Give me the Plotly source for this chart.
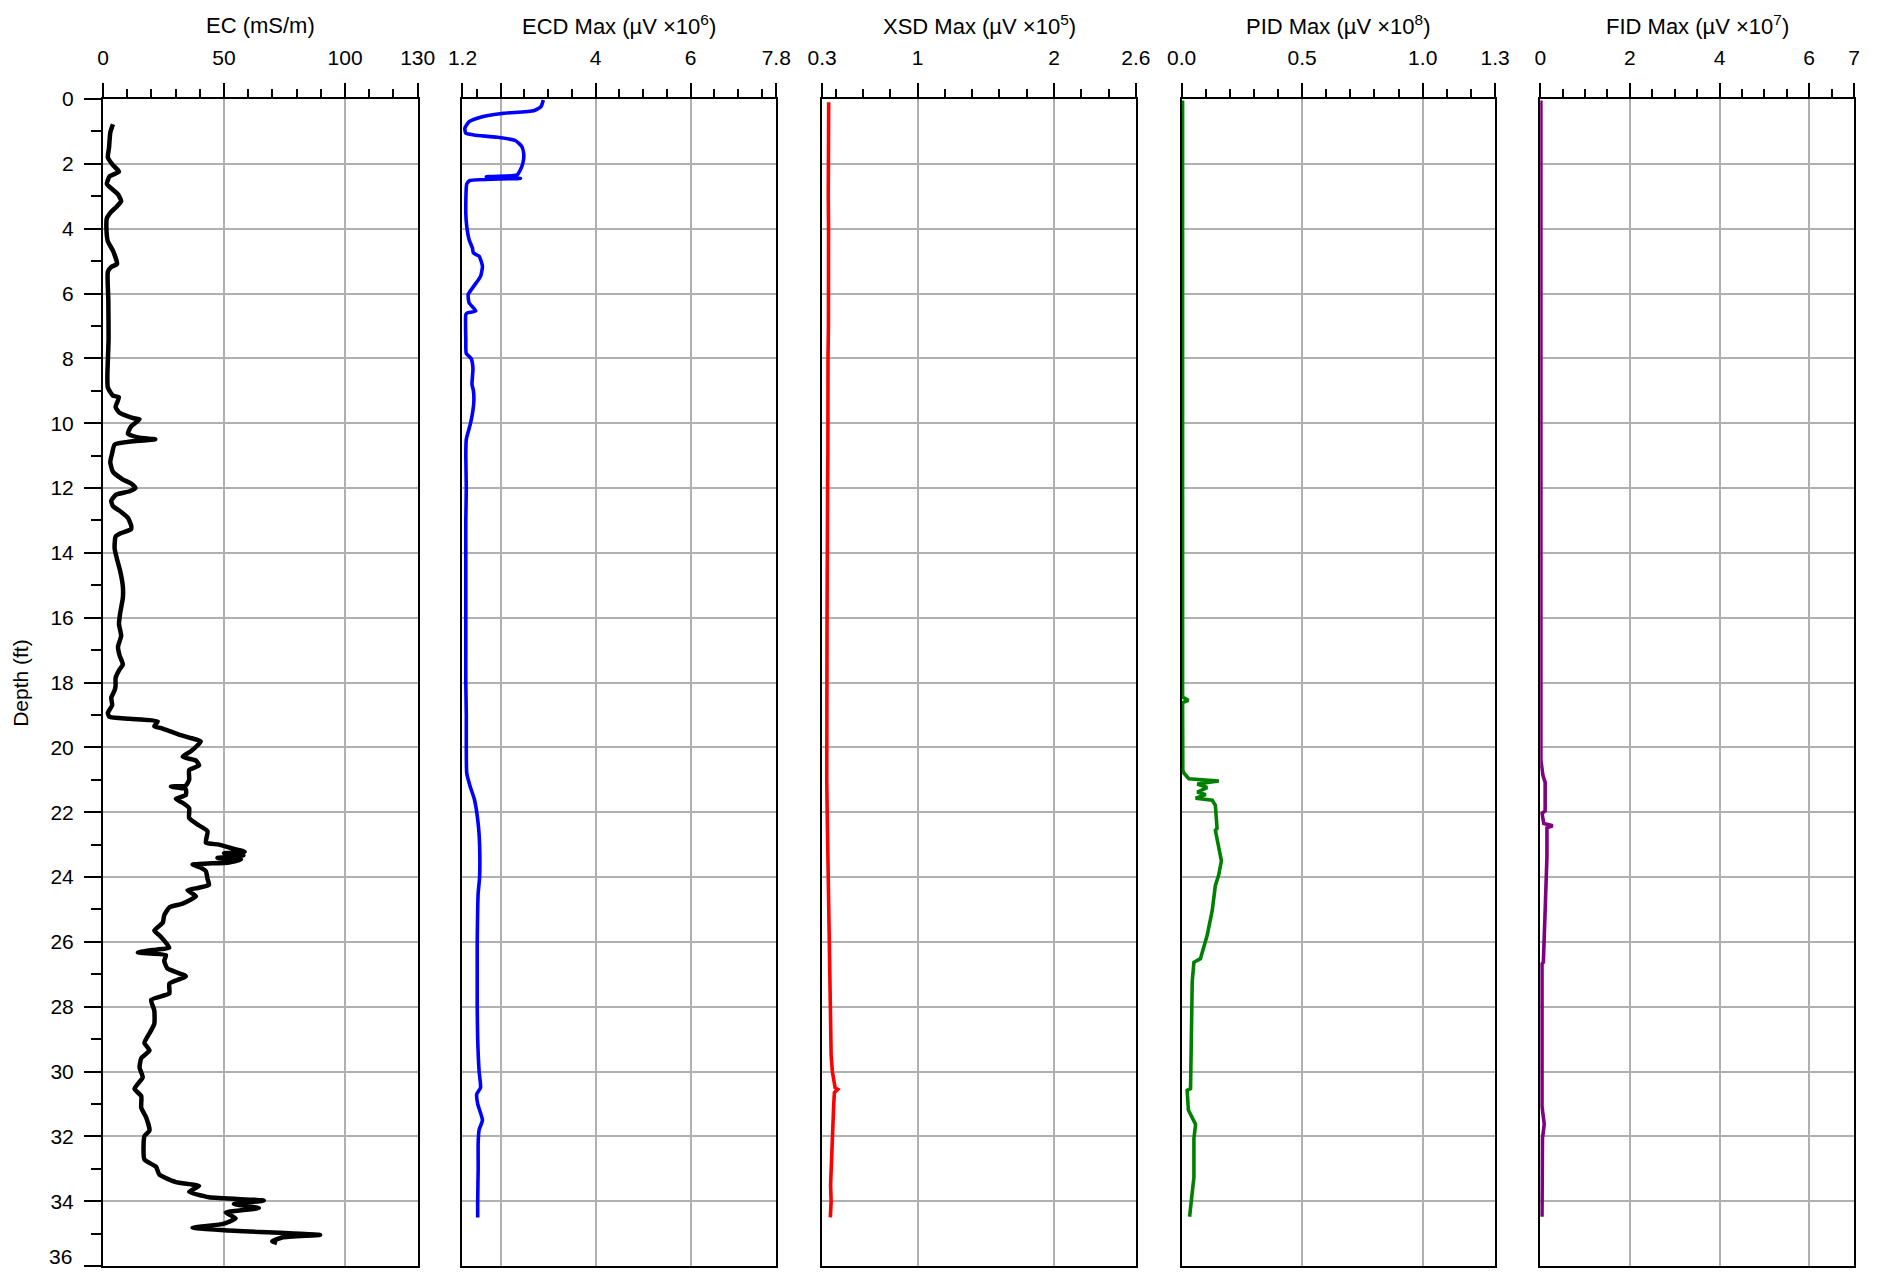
import plotly.graph_objects as go

# ---------------- data ----------------
depth_major = list(range(0, 37, 2))
depth_labels = [str(d) for d in range(0, 35, 2)] + [""]   # "36" is drawn as a note (see below)
depth_minor = list(range(1, 36, 2))

ec_depth = [0.78, 1.04, 1.5, 1.8, 2.04, 2.24, 2.39, 2.62, 2.8, 2.94, 3.15, 3.33, 3.48, 3.68, 3.98,
            4.39, 4.68, 5.09, 5.18, 5.33, 6.2, 7.4, 8.56, 8.9, 9.15, 9.2, 9.5, 9.68, 9.84, 9.88,
            10.1, 10.33, 10.45, 10.5, 10.56, 10.66, 10.92, 11.2, 11.5, 11.74, 11.86, 12.0, 12.1,
            12.2, 12.39, 12.56, 12.74, 12.92, 13.15, 13.27, 13.39, 13.5, 13.86, 14.2, 14.56,
            15.04, 15.39, 15.86, 16.2, 16.56, 16.9, 17.15, 17.45, 17.6, 17.86, 18.1, 18.24,
            18.47, 18.7, 18.94, 19.06, 19.12, 19.2, 19.35, 19.41, 19.59, 19.7, 19.82, 20.12,
            20.29, 20.41, 20.56, 20.7, 21.0, 21.18, 21.21, 21.29, 21.47, 21.59, 21.71, 21.88,
            22.18, 22.41, 22.59, 22.94, 23.0, 23.12, 23.22, 23.27, 23.33, 23.41, 23.46, 23.55,
            23.62, 23.7, 23.82, 24.06, 24.24, 24.33, 24.41, 24.59, 24.82, 24.94, 25.18, 25.41,
            25.65, 25.82, 26.18, 26.24, 26.33, 26.41, 26.59, 26.82, 27.06, 27.29, 27.59, 27.79,
            28.12, 28.53, 28.82, 29.12, 29.35, 29.59, 29.88, 30.18, 30.53, 30.76, 31.12, 31.41,
            31.82, 32.0, 32.71, 32.94, 33.18, 33.41, 33.53, 33.71, 33.88, 33.98, 34.09, 34.21,
            34.35, 34.53, 34.71, 34.82, 34.9, 35.04, 35.12, 35.24, 35.29]
ec_val = [4.1, 3.0, 2.5, 2.0, 4.1, 6.6, 2.7, 1.6, 4.1, 6.2, 7.5, 5.5, 3.4, 1.6, 1.4,
          2.0, 4.1, 5.8, 3.4, 2.0, 2.2, 2.3, 1.8, 2.0, 4.1, 6.6, 5.2, 6.8, 12.3, 15.1,
          11.6, 10.3, 15.1, 21.6, 12.3, 4.8, 3.8, 3.0, 4.1, 8.2, 11.6, 13.4, 11.0,
          5.5, 3.4, 4.1, 7.5, 10.3, 11.6, 11.6, 7.5, 5.2, 4.8, 5.8, 7.1,
          8.2, 8.2, 7.1, 6.6, 7.5, 6.2, 6.8, 8.2, 6.8, 5.2, 5.2, 4.8,
          3.4, 3.8, 2.0, 2.7, 11.0, 22.6, 21.2, 24.0, 30.8, 35.6, 40.4, 36.3,
          32.9, 38.4, 39.7, 35.6, 35.6, 34.2, 28.1, 34.2, 34.2, 30.1, 32.9, 35.6,
          35.6, 39.7, 43.2, 42.5, 47.9, 53.4, 58.5, 50.0, 58.0, 47.3, 57.0, 52.0,
          37.0, 40.0, 42.5, 43.2, 43.8, 39.7, 34.9, 38.4, 32.9, 27.4, 25.3, 24.7,
          21.2, 23.6, 27.4, 21.9, 14.4, 26.0, 25.3, 26.6, 34.2, 27.4, 27.4, 19.9,
          21.2, 21.2, 19.2, 17.1, 19.2, 15.8, 15.1, 16.4, 13.0, 15.8, 15.8, 17.8,
          19.2, 17.1, 17.1, 21.9, 23.3, 30.1, 39.7, 35.6, 43.8, 66.4, 54.1, 64.4,
          50.7, 54.8, 49.3, 37.0, 50.0, 89.7, 74.0, 69.9, 71.9]

ecd_depth = [0.03, 0.24, 0.36, 0.44, 0.56, 0.7, 0.9, 1.06, 1.11, 1.18, 1.28, 1.47, 1.72, 1.98,
             2.18, 2.34, 2.40, 2.45, 2.52, 2.62, 3.52, 3.93, 4.34, 4.6, 4.75, 4.85, 5.16, 5.47,
             5.77, 6.03, 6.29, 6.54, 6.6, 6.65, 7.42, 7.85, 8.0, 8.3, 8.8, 9.0, 9.3, 9.6, 10.0,
             10.5, 11, 12, 13, 14, 15, 16, 17, 18, 19, 20, 20.8, 21.2, 21.6, 22.0, 22.5, 23,
             24, 24.5, 25, 26, 27, 28, 29, 30, 30.5, 30.7, 31, 31.5, 31.8, 32.2, 33, 34, 34.5]
ecd_val = [2.9, 2.85, 2.7, 2.07, 1.58, 1.34, 1.25, 1.27, 1.44, 1.93, 2.31, 2.45, 2.49, 2.47,
           2.42, 2.35, 1.70, 2.42, 1.35, 1.29, 1.27, 1.29, 1.34, 1.41, 1.43, 1.55, 1.62, 1.58,
           1.44, 1.32, 1.34, 1.48, 1.30, 1.27, 1.27, 1.28, 1.38, 1.42, 1.40, 1.43, 1.44, 1.42, 1.37,
           1.28, 1.27, 1.28, 1.27, 1.27, 1.27, 1.27, 1.27, 1.27, 1.28, 1.28, 1.29, 1.36, 1.45, 1.50, 1.54, 1.56,
           1.56, 1.53, 1.52, 1.51, 1.51, 1.51, 1.52, 1.55, 1.58, 1.50, 1.52, 1.62, 1.55, 1.53, 1.53, 1.52, 1.52]

xsd_depth = [0.1, 1, 2, 3, 4, 5, 6, 7, 8, 9, 10, 11, 12, 13, 14, 15, 16, 17, 18, 19, 20, 21, 22,
             23, 24, 25, 26, 27, 28, 29, 29.5, 30, 30.3, 30.5, 30.55, 30.65, 31, 31.5, 32, 32.5,
             33, 33.5, 34, 34.5]
xsd_val = [0.348, 0.346, 0.349, 0.345, 0.347, 0.348, 0.344, 0.346, 0.343, 0.344, 0.345, 0.342,
           0.340, 0.341, 0.338, 0.337, 0.336, 0.335, 0.334, 0.332, 0.330, 0.334, 0.337, 0.340,
           0.343, 0.346, 0.350, 0.353, 0.356, 0.360, 0.366, 0.375, 0.385, 0.395, 0.415, 0.390,
           0.385, 0.380, 0.378, 0.370, 0.365, 0.362, 0.366, 0.360]

pid_depth = [0.05, 18.45, 18.55, 18.62, 20.7, 20.8, 20.97, 21.0, 21.04, 21.13, 21.24, 21.38, 21.46,
             21.57, 21.63, 21.79, 22.5, 22.56, 23.05, 23.5, 23.93, 24.26, 25.03, 25.8, 26.52,
             26.63, 27.23, 30.53, 30.58, 31.19, 31.63, 32.07, 33.27, 34.48]
pid_val = [0.004, 0.004, 0.028, 0.004, 0.005, 0.01, 0.03, 0.085, 0.154, 0.065, 0.106, 0.065, 0.1,
           0.058, 0.127, 0.14, 0.147, 0.14, 0.154, 0.165, 0.154, 0.14, 0.127, 0.106, 0.078,
           0.051, 0.044, 0.037, 0.023, 0.028, 0.058, 0.051, 0.051, 0.033]

fid_depth = [0.05, 18.5, 20.4, 20.86, 21.08, 21.96, 22.04, 22.35, 22.42, 22.48, 23.38, 25.03,
             26.63, 26.68, 31.08, 31.63, 32.07, 34.48]
fid_val = [0.015, 0.02, 0.015, 0.06, 0.11, 0.11, 0.04, 0.08, 0.28, 0.15, 0.15, 0.11,
           0.07, 0.04, 0.04, 0.09, 0.05, 0.04]

panels = [
    dict(depth=ec_depth, val=ec_val, color="black", width=4.5, shape="spline", rng=[0, 130],
         major=[0, 50, 100, 130], text=["0", "50", "100", "130"],
         minor=[10, 20, 30, 40, 60, 70, 80, 90, 110, 120], title="EC (mS/m)"),
    dict(depth=ecd_depth, val=ecd_val, color="#0000ff", width=3.6, shape="spline", rng=[1.2, 7.8],
         major=[1.2, 2, 4, 6, 7.8], text=["1.2", "", "4", "6", "7.8"],
         minor=[1.5, 2.5, 3, 3.5, 4.5, 5, 5.5, 6.5, 7, 7.5],
         title="ECD Max (µV ×10<sup>6</sup>)"),
    dict(depth=xsd_depth, val=xsd_val, color="#ff0000", width=3.6, shape="linear", rng=[0.3, 2.6],
         major=[0.3, 1, 2, 2.6], text=["0.3", "1", "2", "2.6"],
         minor=[0.4, 0.6, 0.8, 1.2, 1.4, 1.6, 1.8, 2.2, 2.4],
         title="XSD Max (µV ×10<sup>5</sup>)"),
    dict(depth=pid_depth, val=pid_val, color="#008000", width=3.6, shape="linear", rng=[0, 1.3],
         major=[0, 0.5, 1.0, 1.3], text=["0.0", "0.5", "1.0", "1.3"],
         minor=[0.1, 0.2, 0.3, 0.4, 0.6, 0.7, 0.8, 0.9, 1.1, 1.2],
         title="PID Max (µV ×10<sup>8</sup>)"),
    dict(depth=fid_depth, val=fid_val, color="#800080", width=3.6, shape="linear", rng=[0, 7],
         major=[0, 2, 4, 6, 7], text=["0", "2", "4", "6", "7"],
         minor=[0.5, 1, 1.5, 2.5, 3, 3.5, 4.5, 5, 5.5, 6.5],
         title="FID Max (µV ×10<sup>7</sup>)"),
]

domains = [[0.0, 0.1797], [0.2053, 0.3845], [0.4107, 0.5899], [0.616, 0.795], [0.8208, 1.0]]

FONT = "Liberation Sans, Arial, sans-serif"
GRID = "#b0b0b0"

# the page body keeps its default 8px margin, so the figure is drawn 8px in and 16px smaller
W, H = 1867, 1263
ML, MT = 95, 91
PW, PH = 1758, 1169
MB = H - MT - PH

fig = go.Figure()
layout = dict(
    width=W, height=H,
    margin=dict(l=ML, r=W - ML - PW, t=MT, b=MB),
    paper_bgcolor="white", plot_bgcolor="white",
    showlegend=False,
    font=dict(family=FONT, size=21, color="black"),
    annotations=[],
)

for i, p in enumerate(panels):
    n = "" if i == 0 else str(i + 1)
    fig.add_trace(go.Scatter(x=p["val"], y=p["depth"], mode="lines",
                             line=dict(color=p["color"], width=p["width"], shape=p["shape"],
                                       smoothing=0.5),
                             xaxis="x" + n, yaxis="y" + n, hoverinfo="skip"))
    layout["xaxis" + n] = dict(
        domain=domains[i], range=p["rng"], side="top", anchor="y" + n,
        showline=True, linecolor="black", linewidth=2, mirror=True,
        zeroline=False, showgrid=True, gridcolor=GRID, gridwidth=1.5,
        tickmode="array", tickvals=p["major"], ticktext=p["text"],
        ticks="outside", ticklen=14, tickwidth=2, tickcolor="black",
        ticklabelstandoff=10,
        tickfont=dict(size=21, family=FONT),
        minor=dict(tickvals=p["minor"], ticks="outside", ticklen=8, tickwidth=1.5,
                   tickcolor="black", showgrid=False),
    )
    ydict = dict(
        domain=[0, 1], range=[36, 0], anchor="x" + n,
        showline=True, linecolor="black", linewidth=2, mirror=True,
        zeroline=False, showgrid=True, gridcolor=GRID, gridwidth=1.5,
        tickmode="array", tickvals=depth_major,
    )
    if i == 0:
        ydict.update(ticktext=depth_labels,
                     ticks="outside", ticklen=17, tickwidth=2, tickcolor="black",
                     ticklabelstandoff=6,
                     tickfont=dict(size=21, family=FONT),
                     minor=dict(tickvals=depth_minor, ticks="outside", ticklen=10,
                                tickwidth=1.5, tickcolor="black", showgrid=False))
    else:
        ydict.update(showticklabels=False, ticks="", matches="y")
    layout["yaxis" + n] = ydict
    layout["annotations"].append(dict(
        text=p["title"], xref="paper", yref="paper",
        x=(domains[i][0] + domains[i][1]) / 2, y=1 + (99 - 25) / PH,
        xanchor="center", yanchor="middle", showarrow=False,
        font=dict(size=22, family=FONT, color="black")))

# last depth label, kept inside the page at the bottom edge of the figure
layout["annotations"].append(dict(
    text=str(depth_major[-1]), xref="paper", yref="paper",
    x=-30 / PW, y=-MB / PH, xanchor="right", yanchor="bottom",
    showarrow=False, borderpad=0, font=dict(size=21, family=FONT, color="black")))

layout["annotations"].append(dict(
    text="Depth (ft)", xref="paper", yref="paper",
    x=-(103 - 20) / PW, y=0.5, xanchor="center", yanchor="middle",
    textangle=-90, showarrow=False, font=dict(size=21, family=FONT, color="black")))

fig.update_layout(**layout)
fig.write_html("out.html", config={"displayModeBar": False})
